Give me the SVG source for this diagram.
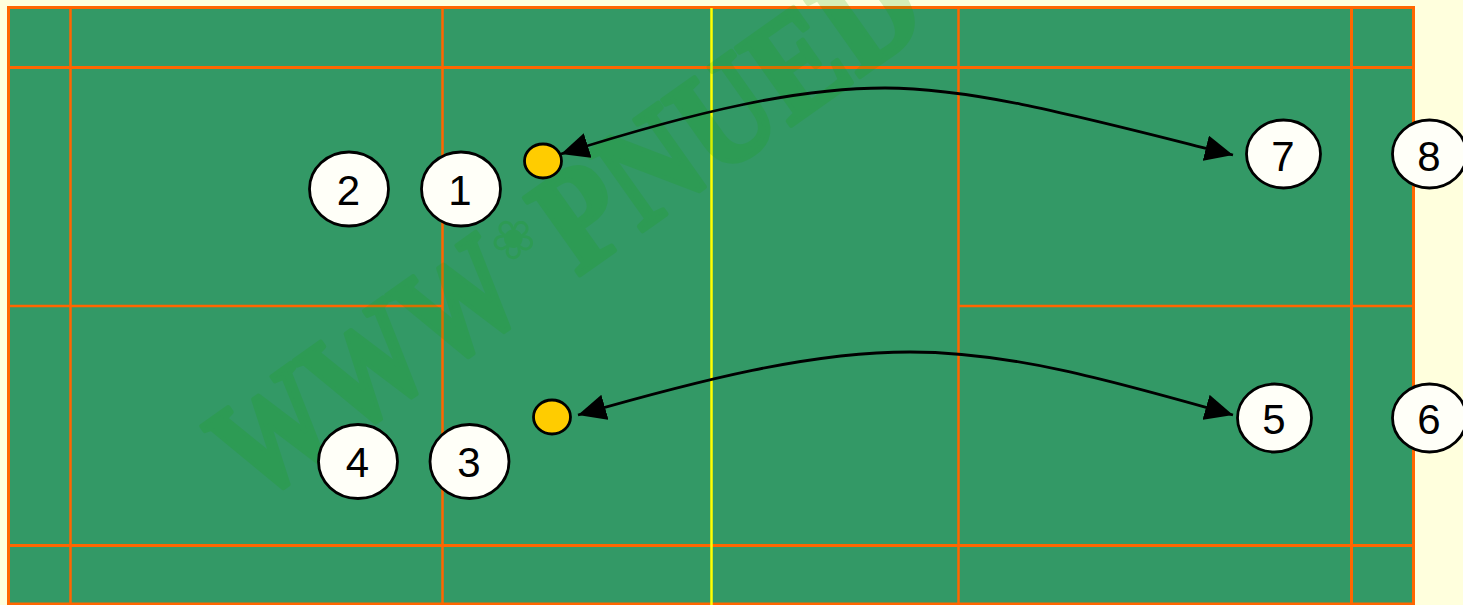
<svg xmlns="http://www.w3.org/2000/svg" width="1463" height="605" viewBox="0 0 1463 605">
<style>
.ln{stroke:#FF6600;fill:none}
.p ellipse{fill:#FFFFF8;stroke:#000;stroke-width:2.8}
.p text{font-family:"Liberation Sans",Arial,sans-serif;font-size:42px;fill:#000;text-anchor:middle}
.s{fill:#FFCC00;stroke:#000;stroke-width:2.8}
.c{fill:none;stroke:#000;stroke-width:2.8;marker-start:url(#a);marker-end:url(#a)}
.wm{font-family:"Liberation Serif",serif;font-weight:bold;font-size:145px;fill:#15A500;stroke:#15A500;stroke-width:5;stroke-linejoin:round;opacity:.167}
.fl{font-family:"DejaVu Sans",sans-serif;font-weight:normal;font-size:54px;stroke:none}
</style>
<defs><marker id="a" markerUnits="userSpaceOnUse" markerWidth="30" markerHeight="26" refX="28" refY="13" orient="auto-start-reverse"><path d="M0 0L28 13L0 26Z" fill="#000"/></marker></defs>
<rect width="1463" height="605" fill="#FFFFDD"/>
<g id="court">
<rect x="8.500" y="7.500" width="1405" height="596.500" fill="#339966"/>
<g class="ln">
<rect x="8.500" y="7.500" width="1405" height="596.500" stroke-width="3"/>
<path stroke-width="3" d="M8 67.500H1414M8 545.500H1414M1351.500 8V605"/>
<path stroke-width="2.500" d="M70.500 8V605M442.500 8V605M958.500 8V605M8 306H442.500M958.500 306H1414"/>
</g>
<path d="M711.500 8V605" stroke="#FFFF00" stroke-width="2.500"/>
</g>
<text class="wm" transform="translate(255 505) rotate(-35.300)"><tspan x="0" textLength="340" lengthAdjust="spacingAndGlyphs">WWW</tspan><tspan class="fl" x="342" y="-50">❀</tspan><tspan x="395" y="0" textLength="435" lengthAdjust="spacingAndGlyphs">PNUED</tspan></text>
<g id="connectors">
<path class="c" d="M561 154C700 110 800 88 885 88C980 88 1100 122 1233 155"/>
<path class="c" d="M578 415C700 380 810 352 910 352C1010 352 1110 380 1233 415"/>
</g>
<g id="shuttle-1"><ellipse class="s" cx="543" cy="161" rx="18.500" ry="17"/></g>
<g id="shuttle-2"><ellipse class="s" cx="552" cy="417" rx="18.500" ry="17"/></g>
<g id="player-1" class="p"><ellipse cx="461" cy="189" rx="39.500" ry="37"/><text x="460" y="204.500">1</text></g>
<g id="player-2" class="p"><ellipse cx="349" cy="189" rx="39.500" ry="37"/><text x="348.500" y="204.500">2</text></g>
<g id="player-3" class="p"><ellipse cx="469.500" cy="461.500" rx="39.500" ry="37"/><text x="469" y="477">3</text></g>
<g id="player-4" class="p"><ellipse cx="358" cy="461.500" rx="39.500" ry="37"/><text x="357.500" y="477">4</text></g>
<g id="player-5" class="p"><ellipse cx="1274.500" cy="418" rx="37" ry="34"/><text x="1274" y="434">5</text></g>
<g id="player-6" class="p"><ellipse cx="1429.500" cy="418" rx="37" ry="34"/><text x="1429" y="434">6</text></g>
<g id="player-7" class="p"><ellipse cx="1283.500" cy="154" rx="37" ry="34"/><text x="1283" y="170.500">7</text></g>
<g id="player-8" class="p"><ellipse cx="1429.500" cy="154" rx="37" ry="34"/><text x="1429" y="170.500">8</text></g>
</svg>
